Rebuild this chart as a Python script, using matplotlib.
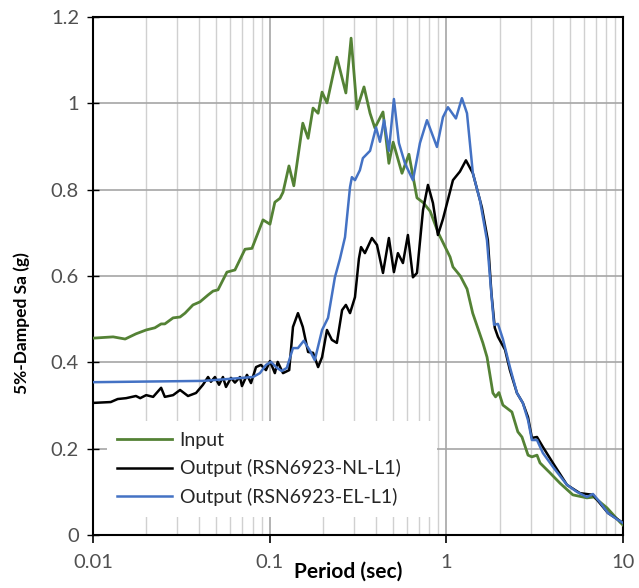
import matplotlib
matplotlib.use('Agg')
import matplotlib.pyplot as plt
from matplotlib.ticker import LogLocator, NullFormatter, FixedLocator

plt.rcParams['font.family'] = ['Lato', 'DejaVu Sans']

# Input (ground motion spectrum)
period_in = [0.0100, 0.0130, 0.0152, 0.0175, 0.0200, 0.0224, 0.0243, 0.0255, 0.0284, 0.0311,
             0.0332, 0.0368, 0.0403, 0.0448, 0.0478, 0.0510, 0.0573, 0.0636, 0.0725, 0.0794,
             0.0917, 0.1004, 0.107, 0.1144, 0.119, 0.1286, 0.137, 0.154, 0.165, 0.176,
             0.188, 0.198, 0.211, 0.240, 0.270, 0.289, 0.312, 0.342, 0.370, 0.394,
             0.438, 0.473, 0.500, 0.561, 0.614, 0.682, 0.740, 0.810, 0.900, 1.050,
             1.090, 1.200, 1.310, 1.410, 1.610, 1.700, 1.835, 1.900, 1.985, 2.090,
             2.350, 2.540, 2.680, 2.900, 3.050, 3.260, 3.390, 3.860, 4.400, 5.200,
             6.250, 6.840, 8.110, 9.600, 10.0]
sa_in = [0.456, 0.459, 0.454, 0.466, 0.475, 0.480, 0.489, 0.489, 0.503, 0.505,
         0.514, 0.533, 0.540, 0.556, 0.565, 0.568, 0.609, 0.614, 0.662, 0.664,
         0.730, 0.720, 0.771, 0.780, 0.794, 0.855, 0.809, 0.954, 0.919, 0.989,
         0.977, 1.026, 1.001, 1.107, 1.024, 1.151, 0.987, 1.038, 0.977, 0.943,
         0.980, 0.861, 0.910, 0.838, 0.882, 0.781, 0.770, 0.750, 0.700, 0.644,
         0.621, 0.600, 0.570, 0.514, 0.445, 0.412, 0.329, 0.320, 0.330, 0.301,
         0.285, 0.239, 0.227, 0.185, 0.181, 0.185, 0.167, 0.144, 0.120, 0.093,
         0.086, 0.088, 0.063, 0.030, 0.023]

# Output (RSN6923-NL-L1)
period_nl = [0.0100, 0.0126, 0.0138, 0.0154, 0.0175, 0.0185, 0.0200, 0.0219, 0.0243, 0.0255,
             0.0284, 0.0311, 0.0345, 0.0383, 0.0419, 0.0448, 0.0465, 0.0490, 0.0517, 0.0544,
             0.0566, 0.0604, 0.0636, 0.0679, 0.0697, 0.0744, 0.0784, 0.0837, 0.0893, 0.0953,
             0.1004, 0.107, 0.111, 0.119, 0.129, 0.1355, 0.1446, 0.154, 0.165, 0.176,
             0.188, 0.198, 0.211, 0.225, 0.240, 0.257, 0.270, 0.285, 0.304, 0.320,
             0.329, 0.346, 0.379, 0.405, 0.438, 0.473, 0.505, 0.532, 0.568, 0.606,
             0.647, 0.682, 0.738, 0.787, 0.840, 0.896, 0.957, 1.090, 1.194, 1.291,
             1.413, 1.589, 1.718, 1.800, 1.880, 1.960, 2.150, 2.290, 2.510, 2.710,
             2.900, 3.050, 3.260, 3.520, 4.010, 4.820, 5.700, 6.760, 8.220, 10.0]
sa_nl = [0.306, 0.308, 0.315, 0.317, 0.322, 0.317, 0.324, 0.320, 0.341, 0.320,
         0.324, 0.336, 0.322, 0.329, 0.348, 0.366, 0.355, 0.366, 0.348, 0.366,
         0.343, 0.364, 0.353, 0.366, 0.345, 0.371, 0.352, 0.389, 0.394, 0.382,
         0.403, 0.375, 0.401, 0.375, 0.382, 0.482, 0.514, 0.482, 0.424, 0.422,
         0.389, 0.412, 0.475, 0.452, 0.445, 0.521, 0.533, 0.514, 0.551, 0.640,
         0.667, 0.653, 0.688, 0.672, 0.607, 0.688, 0.609, 0.653, 0.630, 0.695,
         0.597, 0.607, 0.753, 0.811, 0.769, 0.695, 0.732, 0.822, 0.842, 0.868,
         0.838, 0.759, 0.683, 0.560, 0.480, 0.459, 0.429, 0.382, 0.329, 0.306,
         0.273, 0.225, 0.227, 0.204, 0.167, 0.116, 0.097, 0.093, 0.051, 0.028]

# Output (RSN6923-EL-L1)
period_el = [0.0100, 0.0419, 0.0566, 0.0804, 0.0881, 0.0953, 0.1017, 0.110, 0.117, 0.125,
             0.1355, 0.1446, 0.156, 0.169, 0.180, 0.198, 0.214, 0.234, 0.250, 0.267,
             0.285, 0.292, 0.304, 0.324, 0.337, 0.370, 0.400, 0.421, 0.444, 0.473,
             0.505, 0.539, 0.583, 0.647, 0.709, 0.777, 0.885, 0.957, 1.021, 1.133,
             1.225, 1.309, 1.413, 1.549, 1.698, 1.810, 1.862, 1.960, 2.090, 2.290,
             2.510, 2.710, 2.900, 3.050, 3.260, 3.520, 4.010, 4.820, 5.480, 6.250,
             6.760, 7.400, 8.220, 9.360, 10.0]
sa_el = [0.354, 0.357, 0.361, 0.366, 0.375, 0.394, 0.401, 0.387, 0.380, 0.387,
         0.433, 0.433, 0.450, 0.427, 0.405, 0.475, 0.503, 0.597, 0.640, 0.690,
         0.806, 0.829, 0.822, 0.845, 0.873, 0.890, 0.944, 0.911, 0.961, 0.890,
         1.010, 0.908, 0.861, 0.822, 0.908, 0.961, 0.899, 0.968, 0.991, 0.965,
         1.012, 0.977, 0.838, 0.776, 0.683, 0.545, 0.487, 0.489, 0.454, 0.389,
         0.329, 0.306, 0.266, 0.220, 0.220, 0.190, 0.158, 0.116, 0.100, 0.088,
         0.095, 0.076, 0.051, 0.035, 0.028]

y_ticks = [0, 0.2, 0.4, 0.6, 0.8, 1.0, 1.2]
y_labels = ['0', '0.2', '0.4', '0.6', '0.8', '1', '1.2']
x_ticks = [0.01, 0.1, 1, 10]
x_labels = ['0.01', '0.1', '1', '10']

fig = plt.figure(figsize=(6.39, 5.88), dpi=100)
ax = fig.add_axes([93 / 639, 53 / 588, 530 / 639, 518 / 588])

ax.plot(period_in, sa_in, color='#548235', lw=2.0, label='Input', zorder=3)
ax.plot(period_nl, sa_nl, color='black', lw=1.8, label='Output (RSN6923-NL-L1)', zorder=4)
ax.plot(period_el, sa_el, color='#4472C4', lw=1.8, label='Output (RSN6923-EL-L1)', zorder=5)

ax.set_xscale('log')
ax.set_xlim(0.01, 10)
ax.set_ylim(0, 1.2)

ax.xaxis.set_major_locator(FixedLocator(x_ticks))
ax.set_xticklabels(x_labels)
ax.xaxis.set_minor_locator(LogLocator(base=10, subs=range(2, 10)))
ax.xaxis.set_minor_formatter(NullFormatter())
ax.set_yticks(y_ticks)
ax.set_yticklabels(y_labels)

ax.grid(True, which='major', axis='both', color='#a6a6a6', lw=1.2, zorder=0)
ax.grid(True, which='minor', axis='x', color='#d0d0d0', lw=1.0, zorder=0)
ax.set_axisbelow(True)

for s in ax.spines.values():
    s.set_color('black')
    s.set_linewidth(1.5)

ax.tick_params(axis='x', which='major', direction='out', length=6, width=1.2,
               color='black', labelsize=14.5, labelcolor='#505050', pad=8)
ax.tick_params(axis='x', which='minor', length=0)
ax.tick_params(axis='y', which='major', direction='inout', length=8, width=1.0,
               color='black', labelsize=14.5, labelcolor='#505050', pad=6)

ax.set_xlabel('Period (sec)', fontsize=15, fontweight='bold', color='black')
ax.xaxis.set_label_coords(0.481, -0.052)
ax.set_ylabel('5%-Damped Sa (g)', fontsize=12.5, fontweight='bold', color='black')
ax.yaxis.set_label_coords(-0.118, 0.41)

leg = ax.legend(loc='lower left', bbox_to_anchor=(0.026, 0.035, 0.623, 0.18),
                mode='expand', fontsize=14, frameon=True, fancybox=False,
                framealpha=1, edgecolor='none', facecolor='white',
                handlelength=2.8, handletextpad=0.4, labelspacing=0.55,
                borderpad=0.55, borderaxespad=0)
for t in leg.get_texts():
    t.set_color('#262626')

fig.savefig('out.png', dpi=100)
